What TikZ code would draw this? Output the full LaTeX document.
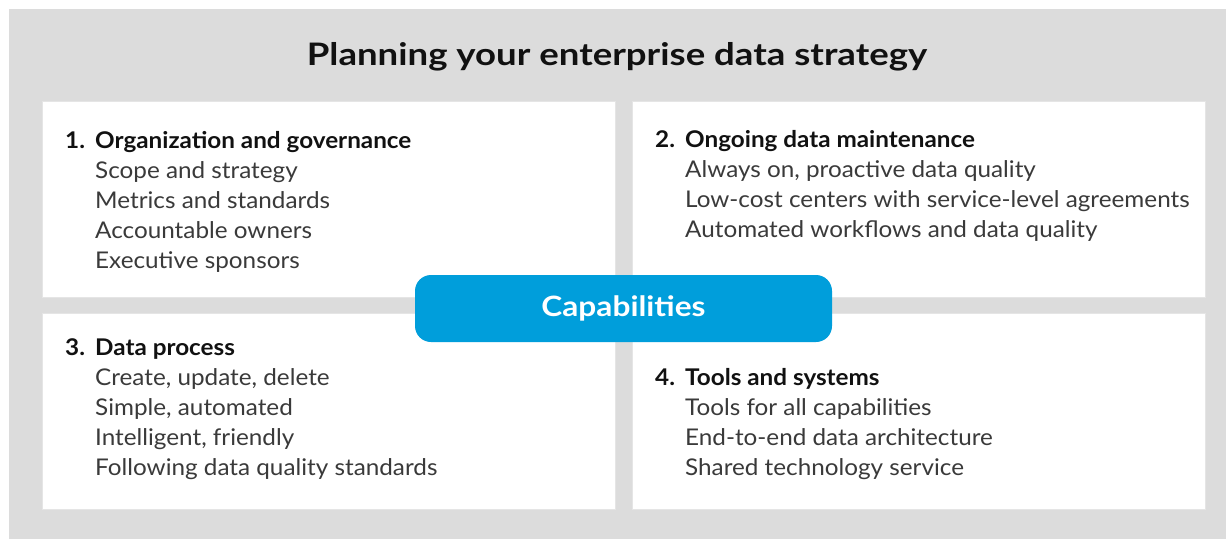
\documentclass[tikz,border=0pt]{standalone}
\usepackage{fontspec}
\setmainfont[FakeStretch=1.055]{Lato}
\newfontfamily\titlefont[FakeStretch=1.18]{Lato}
\newfontfamily\capfont[FakeStretch=1.13]{Lato}
\usetikzlibrary{positioning}
\definecolor{panelgray}{HTML}{DCDCDC}
\definecolor{capblue}{HTML}{009EDB}
\definecolor{itemtext}{HTML}{3A3A3A}
\definecolor{headtext}{HTML}{111111}
\tikzset{
        panel/.style={rectangle, fill=white, draw=black!10, minimum width=573pt, minimum height=196pt, inner sep=0pt},
        paneltext/.style={anchor=base west, align=left, inner sep=0pt, text=itemtext, font=\fontsize{23}{30}\selectfont},
        pill/.style={rectangle, fill=capblue, rounded corners=16pt, minimum width=417pt, minimum height=67pt, text=white, font=\capfont\fontsize{28}{32}\selectfont\bfseries},
        titletext/.style={anchor=base, inner sep=0pt, text=headtext, font=\titlefont\fontsize{31}{36}\selectfont\bfseries},
    }
\newcommand{\paneltitle}[2]{{\color{headtext}\bfseries\makebox[30pt][l]{#1}#2}}
\newcommand{\panelitem}[1]{\hspace*{30pt}#1}

\begin{document}
\begin{tikzpicture}[x=1pt, y=-1pt]

        % === BACKGROUND ===
        \useasboundingbox (0,0) rectangle (1226,539);
        \fill[white] (0,0) rectangle (1226,539);
        \fill[panelgray] (9,9) rectangle (1226,539);

        \node[titletext] (title) at (617,65) {Planning your enterprise data strategy};

        % === PANELS ===
        \node[panel, anchor=north west] (orgpanel) at (42,101) {};
        \node[panel, right=17pt of orgpanel] (maintpanel) {};
        \node[panel, below=16pt of orgpanel] (procpanel) {};
        \node[panel, right=17pt of procpanel] (toolpanel) {};

        % text nodes sit on the baseline of their last line
        \node[paneltext] (orgtext) at (65,268) {\paneltitle{1.}{Organization and governance}\\
            \panelitem{Scope and strategy}\\
            \panelitem{Metrics and standards}\\
            \panelitem{Accountable owners}\\
            \panelitem{Executive sponsors}};
        \node[paneltext] (mainttext) at (655,237) {\paneltitle{2.}{Ongoing data maintenance}\\
            \panelitem{Always on, proactive data quality}\\
            \panelitem{Low-cost centers with service-level agreements}\\
            \panelitem{Automated workflows and data quality}};
        \node[paneltext] (proctext) at (65,475) {\paneltitle{3.}{Data process}\\
            \panelitem{Create, update, delete}\\
            \panelitem{Simple, automated}\\
            \panelitem{Intelligent, friendly}\\
            \panelitem{Following data quality standards}};
        \node[paneltext] (tooltext) at (655,475) {\paneltitle{4.}{Tools and systems}\\
            \panelitem{Tools for all capabilities}\\
            \panelitem{End-to-end data architecture}\\
            \panelitem{Shared technology service}};

        % === CENTRE LABEL ===
        \node[pill] (capab) at (623.5,308.5) {Capabilities};

    \end{tikzpicture}
\end{document}
